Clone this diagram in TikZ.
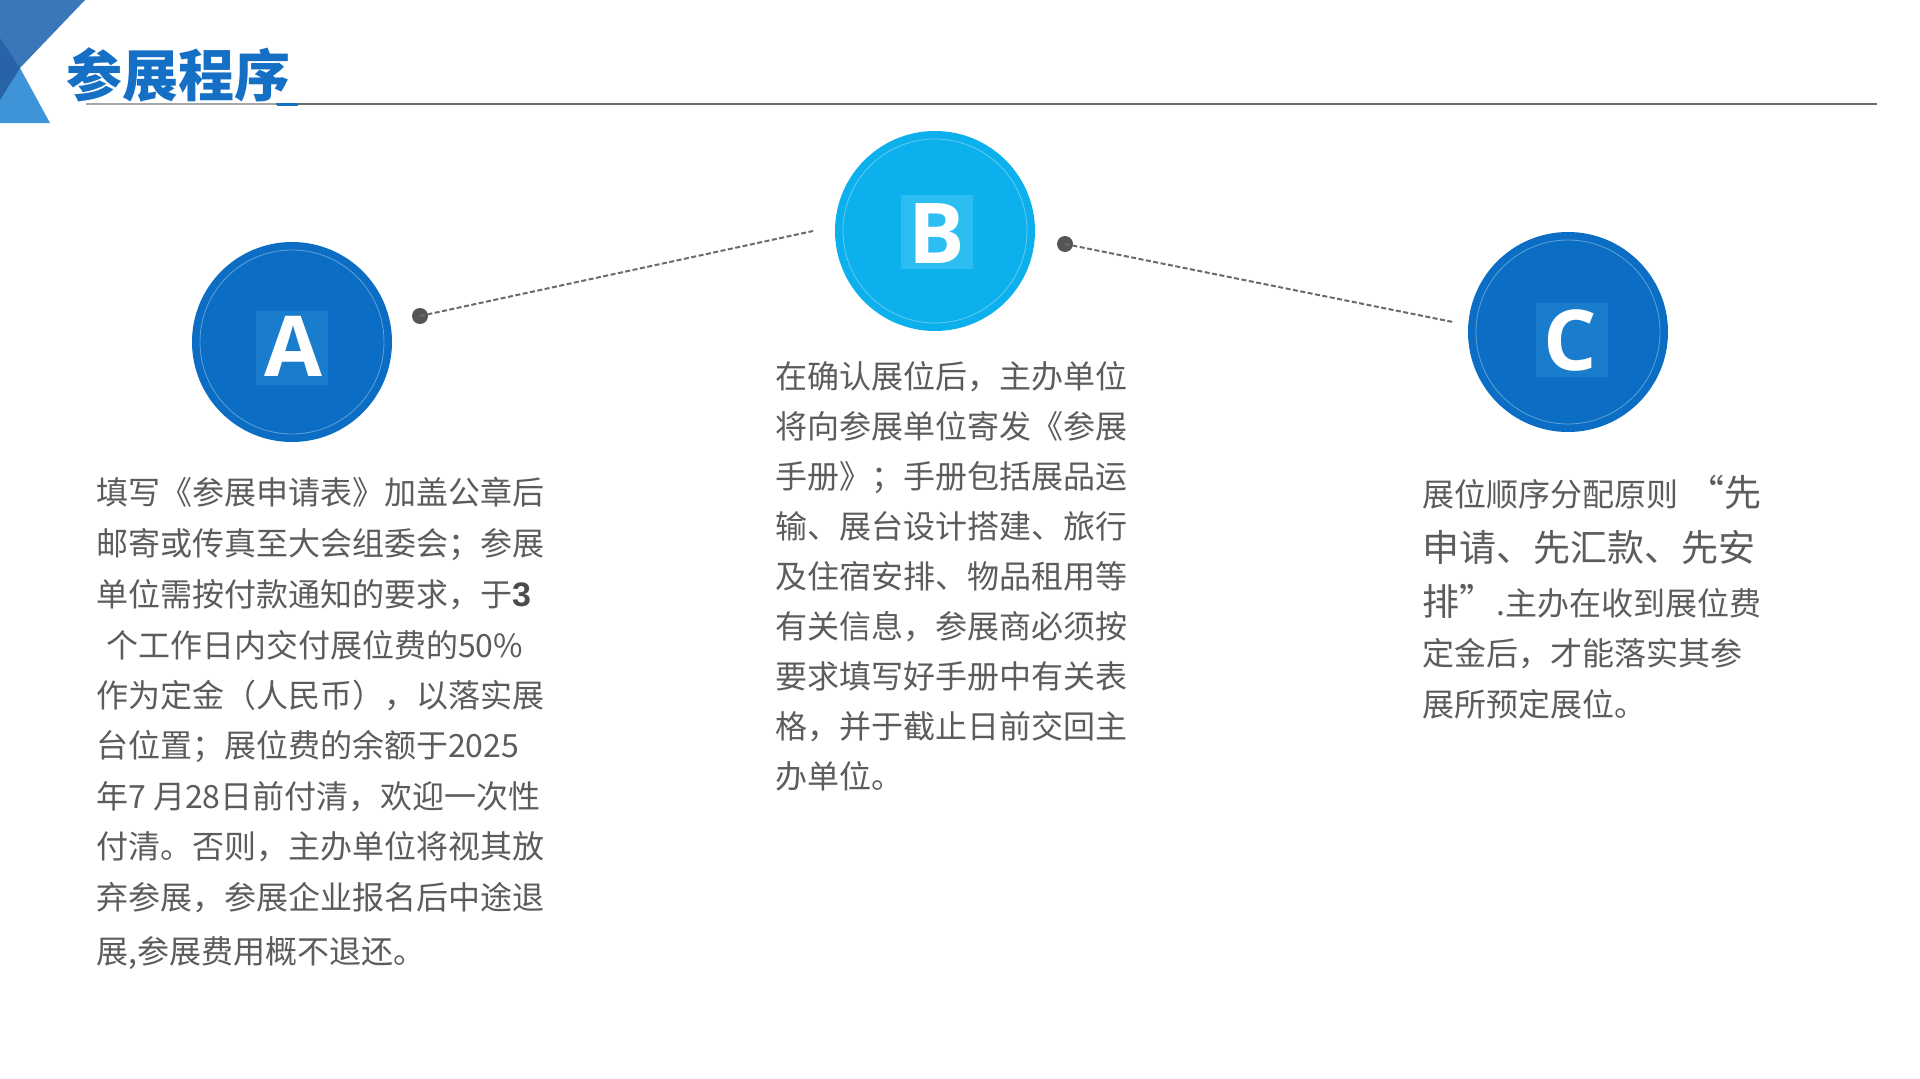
\documentclass[tikz,border=0pt]{standalone}
\usepackage{fontspec}
\setmainfont{Noto Sans CJK SC}
\newfontfamily\cjk{Noto Sans CJK SC}
\newfontfamily\letterfont{Open Sans}
\newfontfamily\arialf{Liberation Sans}
\definecolor{cblue}{HTML}{0B6EC4}
\definecolor{cbluesq}{HTML}{1A7CCD}
\definecolor{lblue}{HTML}{0CB0EC}
\definecolor{lbluesq}{HTML}{2CBEF3}
\definecolor{txt}{HTML}{5C5C5C}
\definecolor{ttl}{HTML}{1570C5}
\definecolor{dotc}{HTML}{555555}
\definecolor{dashc}{HTML}{6A6A6A}
\definecolor{rulec}{HTML}{6B6B6B}
\definecolor{decoA}{HTML}{3A77B9}
\definecolor{decoB}{HTML}{3F94D8}
\definecolor{decoC}{HTML}{2763A6}
\begin{document}
\begin{tikzpicture}[x=1pt,y=-1pt,
  circ/.style={circle,minimum size=200pt,inner sep=0pt},
  sq/.style={minimum width=72pt,minimum height=74pt,inner sep=0pt},
  letter/.style={text=white,font=\letterfont\bfseries\fontsize{84}{84}\selectfont,inner sep=0pt},
  dotn/.style={circle,fill=dotc,minimum size=16pt,inner sep=0pt},
  link/.style={draw=dashc,line width=2pt,dash pattern=on 5pt off 2.5pt},
  body/.style={text=txt,font=\cjk\fontsize{32}{40}\selectfont,anchor=base west,inner sep=0pt},
  ring/.style={draw=white,draw opacity=0.35,line width=0.8pt}
]
\useasboundingbox (0,0) rectangle (1920,1079);
\fill[white] (0,0) rectangle (1920,1079);
% corner decoration
\fill[decoA] (0,0) -- (85,0) -- (20,68) -- (0,68) -- cycle;
\fill[decoB] (0,68) -- (20,68) -- (50,123) -- (0,123) -- cycle;
\fill[decoC] (0,38) -- (20,68) -- (0,100) -- cycle;
% title
\node[anchor=base west,inner sep=0pt,text=ttl,font=\cjk\bfseries\fontsize{56}{56}\selectfont] (title) at (66,96) {参展程序};
\coordinate (r1) at (86,104);
\coordinate (r2) at (1877,104);
\coordinate (g1) at (276,104);
\coordinate (b1) at (277,104);
\coordinate (b2) at (298,104);
\draw[rulec,line width=2pt] (r1) -- (r2);
\draw[black!35,line width=2.5pt] (r1) -- (g1);
\draw[ttl,line width=3pt] (b1) -- (b2);
% circles
\node[circ,fill=cblue] (A) at (292,342) {};
\node[circ,fill=lblue] (B) at (935,231) {};
\node[circ,fill=cblue] (C) at (1568,332) {};
\draw[ring] (A.center) circle (92);
\draw[ring] (B.center) circle (92);
\draw[ring] (C.center) circle (92);
\node[sq,fill=cbluesq] (Asq) at (292,348) {};
\node[sq,fill=lbluesq] (Bsq) at (937,232) {};
\node[sq,fill=cbluesq] (Csq) at (1572,340) {};
\node[letter] (Al) at (293,346) {A};
\node[letter] (Bl) at (937,234) {B};
\node[letter] (Cl) at (1570,340) {C};
% connectors
\node[dotn] (dA) at (420,316) {};
\node[dotn] (dB) at (1065,244) {};
\coordinate (eA) at (813,231);
\coordinate (eB) at (1453,322);
\draw[link] (dA.center) -- (eA);
\draw[link] (dB.center) -- (eB);
% text A
\node[body] (a1) at (96,504) {填写《参展申请表》加盖公章后};
\node[body] (a2) at (96,555) {邮寄或传真至大会组委会；参展};
\node[body] (a3) at (96,606) {单位需按付款通知的要求，于{\arialf\bfseries\fontsize{34}{34}\selectfont\color{black!70}3}};
\node[body] (a4) at (106,657) {个工作日内交付展位费的50\%};
\node[body] (a5) at (96,707) {作为定金（人民币），以落实展};
\node[body] (a6) at (96,757) {台位置；展位费的余额于2025};
\node[body] (a7) at (96,808) {年7 月28日前付清，欢迎一次性};
\node[body] (a8) at (96,858) {付清。否则，主办单位将视其放};
\node[body] (a9) at (96,909) {弃参展，参展企业报名后中途退};
\node[body] (a10) at (96,963) {展,参展费用概不退还。};
% text B
\node[body] (b1n) at (775,388) {在确认展位后，主办单位};
\node[body] (b2n) at (775,438) {将向参展单位寄发《参展};
\node[body] (b3n) at (775,488) {手册》；手册包括展品运};
\node[body] (b4n) at (775,538) {输、展台设计搭建、旅行};
\node[body] (b5n) at (775,588) {及住宿安排、物品租用等};
\node[body] (b6n) at (775,638) {有关信息，参展商必须按};
\node[body] (b7n) at (775,688) {要求填写好手册中有关表};
\node[body] (b8n) at (775,738) {格，并于截止日前交回主};
\node[body] (b9n) at (775,788) {办单位。};
% text C
\node[body] (c1) at (1422,506) {展位顺序分配原则\hspace{9pt}{\fontsize{37}{37}\selectfont “先}};
\node[body,font=\cjk\fontsize{37}{40}\selectfont] (c2) at (1422,561) {申请、先汇款、先安};
\node[body] (c3) at (1422,615) {{\fontsize{37}{37}\selectfont 排”}.主办在收到展位费};
\node[body] (c4) at (1422,665) {定金后，才能落实其参};
\node[body] (c5) at (1422,716) {展所预定展位。};
\end{tikzpicture}
\end{document}
